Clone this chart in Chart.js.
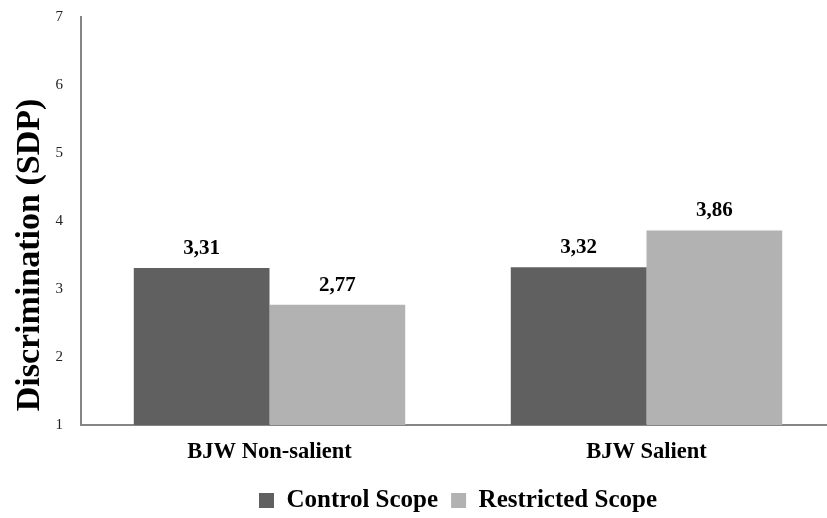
<!DOCTYPE html>
<html>
<head>
<meta charset="utf-8">
<script src="https://cdn.jsdelivr.net/npm/chart.js@4"></script>
<style>
  html, body { margin: 0; padding: 0; background: #fff; overflow: hidden; }
  /* the original plot runs a few pixels past the right edge */
  #wrap { width: 835px; height: 518px; }
</style>
</head>
<body>
<div id="wrap"><canvas id="chart"></canvas></div>
<script>
// chart data
const categories = ["BJW Non-salient", "BJW Salient"];
const controlScope = [3.31, 3.32];
const restrictedScope = [2.77, 3.86];
const yTicks = [1, 2, 3, 4, 5, 6, 7];
const yTitle = "Discrimination (SDP)";

const serif = "'Liberation Serif', 'Times New Roman', serif";

// values above the bars, decimal comma like the original
const valueLabels = {
  id: "valueLabels",
  afterDatasetsDraw(chart) {
    const ctx = chart.ctx;
    ctx.save();
    ctx.font = "bold 21px " + serif;
    ctx.fillStyle = "#000";
    ctx.textAlign = "center";
    ctx.textBaseline = "bottom";
    chart.data.datasets.forEach((ds, i) => {
      chart.getDatasetMeta(i).data.forEach((bar, j) => {
        const txt = ds.data[j].toFixed(2).replace(".", ",");
        ctx.fillText(txt, bar.x, bar.y - 9);
      });
    });
    ctx.restore();
  },
};

// rotated y title, placed like the original (a bit below the area centre)
const yTitlePlugin = {
  id: "yTitlePlugin",
  afterDraw(chart) {
    const ctx = chart.ctx;
    ctx.save();
    ctx.translate(30, 255);
    ctx.rotate(-Math.PI / 2);
    ctx.font = "bold 34px " + serif;
    ctx.fillStyle = "#000";
    ctx.textAlign = "center";
    ctx.textBaseline = "middle";
    ctx.fillText(yTitle, 0, 0);
    ctx.restore();
  },
};

const ctx = document.getElementById("chart").getContext("2d");
new Chart(ctx, {
  type: "bar",
  data: {
    labels: categories,
    datasets: [
      {
        label: "Control Scope",
        data: controlScope,
        backgroundColor: "#606060",
        borderWidth: 0,
      },
      {
        label: "Restricted Scope",
        data: restrictedScope,
        backgroundColor: "#b2b2b2",
        borderWidth: 0,
      },
    ],
  },
  options: {
    responsive: true,
    maintainAspectRatio: false,
    animation: false,
    layout: { padding: { top: 17, right: 0, left: 0, bottom: 0 } },
    datasets: {
      bar: { categoryPercentage: 0.72, barPercentage: 1.0 },
    },
    scales: {
      x: {
        grid: { display: false, drawTicks: false },
        border: { display: true, color: "#868686", width: 2 },
        ticks: {
          color: "#000",
          font: { family: serif, size: 22.5, weight: "bold" },
          padding: 14,
        },
        afterFit(scale) { scale.height = 50; },
      },
      y: {
        min: 1,
        max: 7,
        grid: { display: false, drawTicks: false },
        border: { display: true, color: "#868686", width: 2 },
        ticks: {
          stepSize: 1,
          color: "#222",
          padding: 18,
          font: { family: serif, size: 15 },
          callback: (v) => (yTicks.includes(v) ? String(v) : ""),
        },
        afterFit(scale) {
          scale.width = 81;
          scale.paddingTop = 0;
          scale.paddingBottom = 0;
        },
      },
    },
    plugins: {
      legend: {
        position: "bottom",
        fullSize: false,
        maxHeight: 43,
        labels: {
          boxWidth: 15,
          boxHeight: 15,
          padding: 13,
          color: "#000",
          font: { family: serif, size: 25, weight: "bold" },
        },
      },
      tooltip: { enabled: false },
    },
  },
  plugins: [valueLabels, yTitlePlugin],
});
</script>
</body>
</html>
